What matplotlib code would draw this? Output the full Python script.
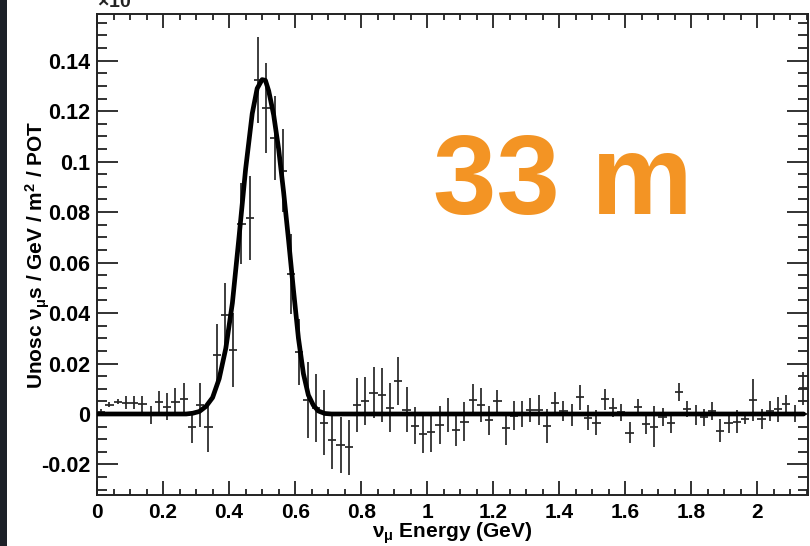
import numpy as np
import matplotlib
matplotlib.use("Agg")
import matplotlib.pyplot as plt
from matplotlib.ticker import MultipleLocator, FormatStrFormatter
from matplotlib.patches import Rectangle

plt.rcParams['font.family'] = ['Liberation Sans', 'DejaVu Sans']
plt.rcParams['font.weight'] = 'bold'
plt.rcParams['axes.unicode_minus'] = False
plt.rcParams['mathtext.fontset'] = 'custom'
plt.rcParams['mathtext.rm'] = 'Liberation Sans'
plt.rcParams['mathtext.it'] = 'Liberation Sans'
plt.rcParams['mathtext.bf'] = 'Liberation Sans:bold'

# ---- data ----
bin_width = 0.025
n_bins = 86
energy = 0.0125 + bin_width * np.arange(n_bins)

flux = [0.0008, 0.0036, 0.0049, 0.0045, 0.0045, 0.0040, -0.0004, 0.0049, 0.0029, 0.0049,
        0.0058, -0.0053, 0.0036, -0.0053, 0.0233, 0.0391, 0.0253, 0.0754, 0.0777, 0.1323,
        0.1212, 0.1094, 0.0964, 0.0556, 0.0246, 0.0055, 0.0024, -0.0034, -0.0105, -0.0123,
        -0.0131, 0.0036, 0.0051, 0.0085, 0.0077, 0.0025, 0.0132, 0.0017, -0.0046, -0.0080,
        -0.0070, -0.0045, -0.0004, -0.0065, -0.0030, 0.0055, 0.0036, -0.0025, 0.0050, -0.0057,
        -0.0006, 0.0000, 0.0016, 0.0016, -0.0048, 0.0045, 0.0012, -0.0004, 0.0066, -0.0015,
        -0.0034, 0.0058, 0.0025, 0.0007, -0.0074, 0.0026, -0.0041, -0.0050, -0.0011, -0.0037,
        0.0087, 0.0020, -0.0005, -0.0013, 0.0012, -0.0066, -0.0035, -0.0030, -0.0019, 0.0055,
        -0.0021, 0.0013, 0.0018, 0.0040, 0.0003, 0.0102]

flux_err = [0.0010, 0.0010, 0.0011, 0.0025, 0.0026, 0.0033, 0.0036, 0.0041, 0.0053, 0.0055,
            0.0065, 0.0063, 0.0088, 0.0097, 0.0125, 0.0128, 0.0148, 0.0160, 0.0167, 0.0171,
            0.0177, 0.0166, 0.0164, 0.0158, 0.0130, 0.0150, 0.0134, 0.0128, 0.0114, 0.0110,
            0.0109, 0.0107, 0.0096, 0.0102, 0.0107, 0.0096, 0.0095, 0.0088, 0.0072, 0.0075,
            0.0079, 0.0075, 0.0069, 0.0063, 0.0077, 0.0062, 0.0066, 0.0057, 0.0045, 0.0065,
            0.0056, 0.0050, 0.0048, 0.0059, 0.0066, 0.0044, 0.0038, 0.0045, 0.0050, 0.0050,
            0.0048, 0.0042, 0.0038, 0.0033, 0.0041, 0.0033, 0.0040, 0.0080, 0.0035, 0.0038,
            0.0036, 0.0030, 0.0040, 0.0033, 0.0034, 0.0046, 0.0040, 0.0045, 0.0020, 0.0082,
            0.0040, 0.0040, 0.0048, 0.0036, 0.0034, 0.0066]

# fitted curve
fit_x = [0.0, 0.27, 0.29, 0.31, 0.33, 0.35, 0.37, 0.39, 0.41, 0.43, 0.45, 0.47, 0.485,
         0.50, 0.51, 0.52, 0.535, 0.55, 0.565, 0.58, 0.595, 0.61, 0.625, 0.64, 0.655,
         0.67, 0.69, 0.71, 2.14]
fit_y = [0.0, 0.0, 0.0003, 0.0010, 0.0030, 0.0065, 0.0140, 0.0260, 0.0440, 0.0700, 0.0970,
         0.1190, 0.1290, 0.1325, 0.1322, 0.1280, 0.1185, 0.1050, 0.0880, 0.0690, 0.0490,
         0.0300, 0.0160, 0.0075, 0.0035, 0.0012, 0.0002, 0.0, 0.0]

x_ticks = [0, 0.2, 0.4, 0.6, 0.8, 1.0, 1.2, 1.4, 1.6, 1.8, 2.0]
y_ticks = [-0.02, 0, 0.02, 0.04, 0.06, 0.08, 0.10, 0.12, 0.14]

# ---- figure ----
W, H = 810, 546
fig = plt.figure(figsize=(W / 100, H / 100), dpi=100)
fig.patch.set_facecolor('white')
fig.patches.append(Rectangle((0, 0), 7 / W, 1, transform=fig.transFigure,
                             facecolor='#1d2128', edgecolor='none', zorder=0))

ax = fig.add_axes([97 / W, (H - 495) / H, (808 - 97) / W, (495 - 14) / H])
ax.set_xlim(0, 2.153)
ax.set_ylim(-0.0321, 0.1585)

ax.errorbar(energy, flux, yerr=flux_err, xerr=bin_width / 2, fmt='none',
            ecolor='#262626', elinewidth=1.25, capsize=0, zorder=2)
ax.plot(fit_x, fit_y, color='black', lw=3.4, solid_capstyle='round',
        solid_joinstyle='round', zorder=3)

ax.set_xticks(x_ticks)
ax.set_yticks(y_ticks)
ax.xaxis.set_minor_locator(MultipleLocator(0.05))
ax.yaxis.set_minor_locator(MultipleLocator(0.005))
ax.xaxis.set_major_formatter(FormatStrFormatter('%g'))
ax.yaxis.set_major_formatter(FormatStrFormatter('%g'))

ax.tick_params(axis='both', which='both', direction='in', top=True, right=True,
               color='#222222', width=1.3)
ax.tick_params(axis='x', which='major', length=10, pad=5.5, labelsize=15)
ax.tick_params(axis='x', which='minor', length=4.5)
ax.tick_params(axis='y', which='major', length=15, pad=5, labelsize=15.5)
ax.tick_params(axis='y', which='minor', length=7)
for lab in ax.get_xticklabels() + ax.get_yticklabels():
    lab.set_fontweight('bold')
for s in ax.spines.values():
    s.set_linewidth(1.4)
    s.set_color('#222222')

ax.set_xlabel(r'$\nu_{\mu}$ Energy (GeV)', fontsize=15, fontweight='bold', labelpad=-1)
ax.set_ylabel(r'Unosc $\nu_{\mu}$s / GeV / m$^{2}$ / POT', fontsize=15,
              fontweight='bold', labelpad=-8)

ax.text(0.655, 0.645, '33 m', transform=ax.transAxes, fontsize=82, fontweight='bold',
        color='#F39424', ha='center', va='center')

fig.text(97 / W, 1 - 7 / H, r'$\times$10', fontsize=14, fontweight='bold',
         ha='left', va='baseline', color='#222222')

fig.savefig('out.png', dpi=100)
